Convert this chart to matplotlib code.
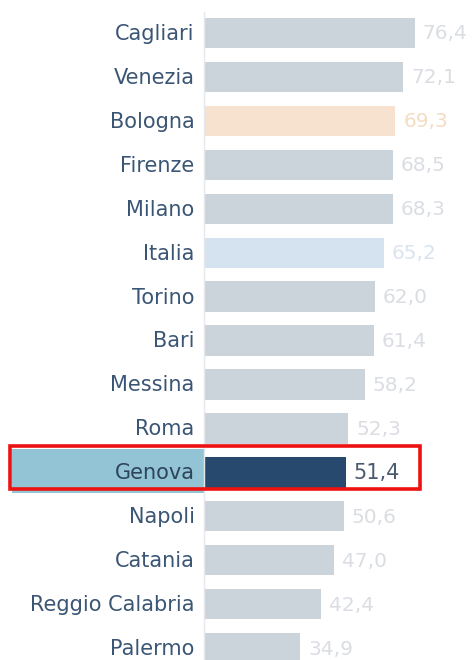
import matplotlib.pyplot as plt
from matplotlib.patches import Rectangle

plt.rcParams['font.family'] = ['DejaVu Sans']

# Data
cities = ['Cagliari', 'Venezia', 'Bologna', 'Firenze', 'Milano', 'Italia', 'Torino',
          'Bari', 'Messina', 'Roma', 'Genova', 'Napoli', 'Catania',
          'Reggio Calabria', 'Palermo']
values = [76.4, 72.1, 69.3, 68.5, 68.3, 65.2, 62.0, 61.4, 58.2, 52.3,
          51.4, 50.6, 47.0, 42.4, 34.9]

# Styling
bar_default = '#cbd3db'
val_default = '#dadde2'
bar_special = {'Bologna': '#f6e2cf', 'Italia': '#d5e3f1', 'Genova': '#26496d'}
val_special = {'Bologna': '#f4dcc3', 'Italia': '#d9e4ef', 'Genova': '#4a5a6e'}
label_color = '#3b5675'

fig = plt.figure(figsize=(4.74, 6.6), dpi=100)
ax = fig.add_axes([204 / 474, 0, 270 / 474, 1])

ypos = list(range(len(cities)))
colors = [bar_special.get(c, bar_default) for c in cities]
ax.barh(ypos, values, height=0.69, color=colors, zorder=2)

ax.set_xlim(0, 97.75)
ax.set_ylim(14.27, -0.751)

# highlighted row background behind label
gi = cities.index('Genova')
ax.barh(gi - 0.03, -69.5, height=1.0, color='#93c4d5', clip_on=False, zorder=1)

for i, (c, v) in enumerate(zip(cities, values)):
    hl = c == 'Genova'
    ax.text(v + 2.8, i + 0.02, f'{v:.1f}'.replace('.', ','), va='center', ha='left',
            fontsize=15 if hl else 14.5, color=val_special.get(c, val_default),
            clip_on=False)
    ax.text(-3.4, i + 0.02, c, va='center', ha='right', fontsize=15,
            color='#2e4458' if hl else label_color, clip_on=False)

# red frame around Genova
ax.add_patch(Rectangle((-70.2, gi - 0.6), 148.4, 0.98, fill=False,
                       edgecolor='#ee1111', linewidth=2.6, clip_on=False, zorder=5))

ax.set_xticks([])
ax.set_yticks([])
for s in ['top', 'right', 'bottom']:
    ax.spines[s].set_visible(False)
ax.spines['left'].set_color('#e6e8eb')
ax.spines['left'].set_linewidth(1)
ax.spines['left'].set_bounds(14.27, -0.48)

fig.savefig('out.png', dpi=100)
